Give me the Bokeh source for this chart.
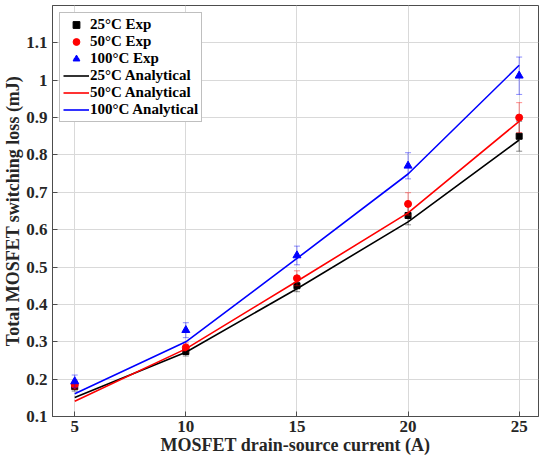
from bokeh.plotting import figure
from bokeh.models import (Legend, LegendItem, ColumnDataSource, FixedTicker,
                          Range1d, CustomJSTickFormatter)
from bokeh.embed import file_html
from bokeh.resources import INLINE

current = [5, 10, 15, 20, 25]

exp_25 = [0.180, 0.274, 0.450, 0.638, 0.850]
exp_50 = [0.185, 0.285, 0.470, 0.669, 0.900]
exp_100 = [0.194, 0.331, 0.531, 0.771, 1.012]

err_25 = [0.012, 0.012, 0.016, 0.025, 0.040]
err_50 = [0.012, 0.012, 0.020, 0.030, 0.040]
err_100 = [0.017, 0.020, 0.025, 0.035, 0.050]

ana_25 = [0.151, 0.272, 0.442, 0.621, 0.840]
ana_50 = [0.141, 0.281, 0.462, 0.645, 0.890]
ana_100 = [0.161, 0.300, 0.523, 0.749, 1.040]

x_ticks = [5, 10, 15, 20, 25]
y_ticks = [0.1, 0.2, 0.3, 0.4, 0.5, 0.6, 0.7, 0.8, 0.9, 1.0, 1.1]

FONT = "Liberation Serif"
AX_COL = "#4d4d4d"

p = figure(width=542, height=460, output_backend="svg", toolbar_location=None,
           x_range=Range1d(4, 25.87), y_range=Range1d(0.1, 1.2),
           min_border_left=50, min_border_right=4, min_border_top=5,
           min_border_bottom=44)
p.outline_line_color = AX_COL
p.outline_line_width = 1
p.background_fill_color = "white"
p.border_fill_color = "white"

fmt = CustomJSTickFormatter(code="return (Math.round(tick*10)/10).toString()")

for ax in p.xaxis:
    ax.ticker = FixedTicker(ticks=x_ticks)
for ax in p.yaxis:
    ax.ticker = FixedTicker(ticks=y_ticks)
    ax.formatter = fmt

for ax in list(p.xaxis) + list(p.yaxis):
    ax.axis_line_color = AX_COL
    ax.major_tick_line_color = AX_COL
    ax.major_tick_in = 5
    ax.major_tick_out = 0
    ax.minor_tick_line_color = None
    ax.major_label_text_font = FONT
    ax.major_label_text_font_style = "bold"
    ax.major_label_text_font_size = "17px"
    ax.major_label_text_color = "#262626"
    ax.axis_label_text_font = FONT
    ax.axis_label_text_font_style = "bold"
    ax.axis_label_text_font_size = "18px"
    ax.axis_label_text_color = "#262626"

p.xaxis.axis_label = "MOSFET drain-source current (A)"
p.yaxis.axis_label = "Total MOSFET switching loss (mJ)"
p.xaxis.major_label_standoff = 4
p.xaxis.axis_label_standoff = 0
p.yaxis.major_label_standoff = 5
p.yaxis.axis_label_standoff = 0

p.xgrid.grid_line_color = "#d9d9d9"
p.ygrid.grid_line_color = "#d9d9d9"
p.xgrid.ticker = FixedTicker(ticks=x_ticks)
p.ygrid.ticker = FixedTicker(ticks=y_ticks)

series = [
    ("25°C", exp_25, err_25, ana_25, "#000000", "square", 6),
    ("50°C", exp_50, err_50, ana_50, "#ff0000", "circle", 7),
    ("100°C", exp_100, err_100, ana_100, "#0000ff", "triangle", 8),
]

exp_items = []
ana_items = []
for name, ye, err, ya, col, marker, size in series:
    lo = [v - e for v, e in zip(ye, err)]
    hi = [v + e for v, e in zip(ye, err)]
    src = ColumnDataSource(dict(x=current, y=ye, lo=lo, hi=hi))
    p.segment(x0="x", y0="lo", x1="x", y1="hi", source=src,
              line_color=col, line_alpha=0.45, line_width=1)
    p.scatter(x="x", y="lo", source=src, marker="dash", size=6,
              line_color=col, line_alpha=0.45, line_width=1)
    p.scatter(x="x", y="hi", source=src, marker="dash", size=6,
              line_color=col, line_alpha=0.45, line_width=1)
    # legend-only error-bar sample, placed outside the visible range
    bar_leg = p.scatter(x=[-100], y=[-100], marker="dash", size=14,
                        angle=1.5708, line_color=col, line_alpha=0.45,
                        line_width=1)
    mk = p.scatter(x="x", y="y", source=src, marker=marker, size=size,
                   fill_color=col, line_color=col)
    exp_items.append(LegendItem(label=name + " Exp", renderers=[bar_leg, mk]))

for name, ye, err, ya, col, marker, size in series:
    ln = p.line(x=current, y=ya, line_color=col, line_width=1.6)
    ana_items.append(LegendItem(label=name + " Analytical", renderers=[ln]))

legend = Legend(items=exp_items + ana_items, location="top_left",
                margin=7, padding=3, spacing=0,
                glyph_width=26, glyph_height=17, label_height=17,
                label_standoff=1,
                label_text_font=FONT, label_text_font_style="bold",
                label_text_font_size="15px", label_text_color="#000000",
                border_line_color="#7f7f7f", border_line_width=1,
                background_fill_color="white", background_fill_alpha=1)
p.add_layout(legend)

open("out.html", "w").write(file_html(p, INLINE))
